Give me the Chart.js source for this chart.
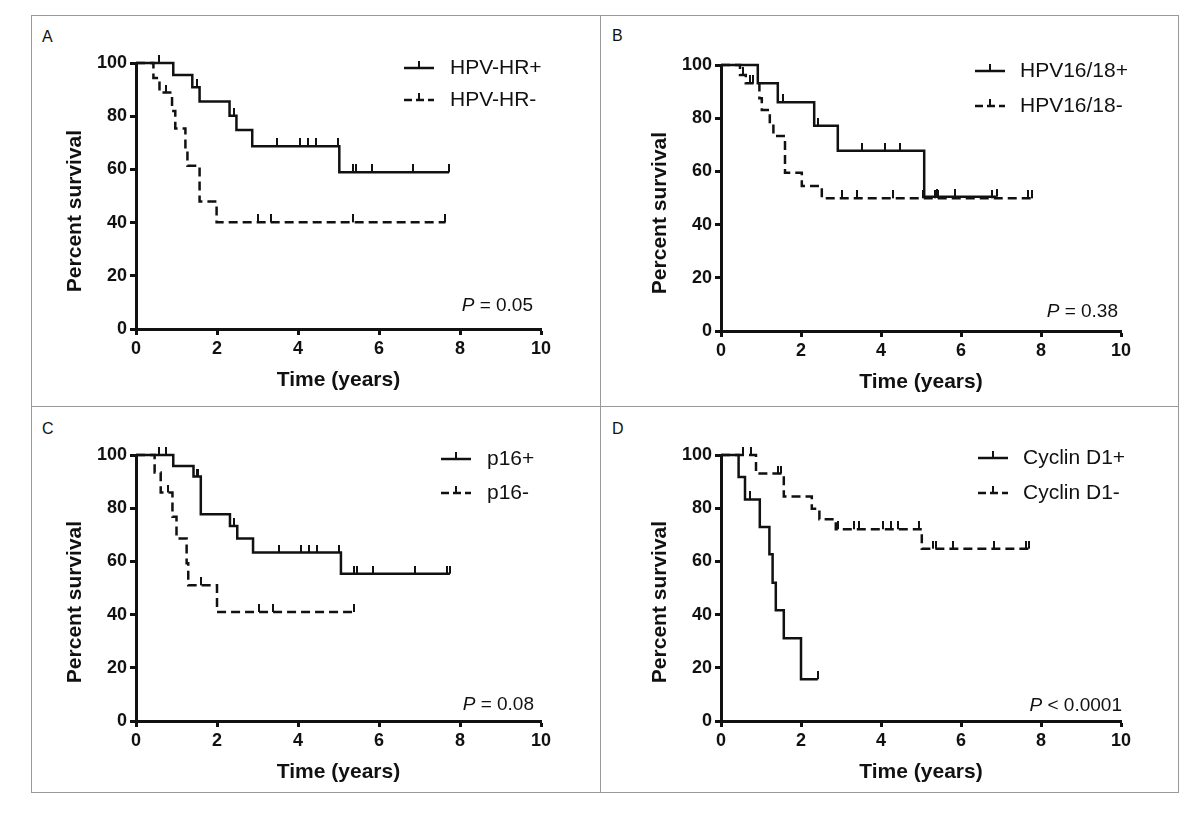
<!DOCTYPE html>
<html>
<head>
<meta charset="utf-8">
<title>Kaplan-Meier survival</title>
<script src="https://cdn.jsdelivr.net/npm/chart.js@4.4.0/dist/chart.umd.min.js"></script>
<style>
  html, body { margin: 0; padding: 0; background: #fff; }
  body { position: relative; width: 1200px; height: 816px; overflow: hidden; font-family: "Liberation Sans", Arial, sans-serif; color: #111; }
  .frame { position: absolute; left: 31px; top: 15px; width: 1146px; height: 776px; border: 1px solid #999; }
  .vline { position: absolute; left: 600px; top: 15px; width: 1px; height: 777px; background: #999; }
  .hline { position: absolute; left: 31px; top: 406px; width: 1147px; height: 1px; background: #999; }
  .letter { position: absolute; font-size: 16px; line-height: 18px; }
  canvas.chart { position: absolute; }
  .glyph { position: absolute; }
  .legtext { position: absolute; font-size: 21px; line-height: 24px; white-space: nowrap; }
  .pval { position: absolute; font-size: 19px; line-height: 22px; white-space: nowrap; text-align: right; }
  .ytitle { position: absolute; width: 200px; height: 24px; margin-left: -100px; margin-top: -12px;
            font-size: 21px; line-height: 24px; font-weight: bold; text-align: center; white-space: nowrap;
            transform: rotate(-90deg); }
</style>
</head>
<body>
<div class="frame"></div>
<div class="vline"></div>
<div class="hline"></div>

<div class="letter" style="left:42px;top:28px">A</div>
<div class="letter" style="left:612px;top:27px">B</div>
<div class="letter" style="left:42px;top:420px">C</div>
<div class="letter" style="left:612px;top:420px">D</div>

<canvas class="chart" id="chartA" width="538" height="350" style="left:58px;top:49px"></canvas>
<canvas class="chart" id="chartB" width="533" height="350" style="left:643px;top:51px"></canvas>
<canvas class="chart" id="chartC" width="538" height="350" style="left:58px;top:441px"></canvas>
<canvas class="chart" id="chartD" width="533" height="350" style="left:643px;top:441px"></canvas>

<div class="ytitle" style="left:74px;top:211px">Percent survival</div>
<div class="ytitle" style="left:659px;top:213px">Percent survival</div>
<div class="ytitle" style="left:74px;top:602px">Percent survival</div>
<div class="ytitle" style="left:659px;top:602px">Percent survival</div>

<canvas class="glyph js-solid" width="30" height="16" style="left:404px;top:59px"></canvas>
<div class="legtext" style="left:450px;top:55px">HPV-HR+</div>
<canvas class="glyph js-dashed" width="30" height="16" style="left:404px;top:91px"></canvas>
<div class="legtext" style="left:450px;top:87px">HPV-HR-</div>

<canvas class="glyph js-solid" width="30" height="16" style="left:975px;top:62px"></canvas>
<div class="legtext" style="left:1020px;top:58px">HPV16/18+</div>
<canvas class="glyph js-dashed" width="30" height="16" style="left:975px;top:97px"></canvas>
<div class="legtext" style="left:1020px;top:93px">HPV16/18-</div>

<canvas class="glyph js-solid" width="30" height="16" style="left:441px;top:450px"></canvas>
<div class="legtext" style="left:487px;top:446px">p16+</div>
<canvas class="glyph js-dashed" width="30" height="16" style="left:441px;top:484px"></canvas>
<div class="legtext" style="left:487px;top:480px">p16-</div>

<canvas class="glyph js-solid" width="30" height="16" style="left:978px;top:449px"></canvas>
<div class="legtext" style="left:1023px;top:445px">Cyclin D1+</div>
<canvas class="glyph js-dashed" width="30" height="16" style="left:978px;top:484px"></canvas>
<div class="legtext" style="left:1023px;top:480px">Cyclin D1-</div>

<div class="pval" style="right:667px;top:294px"><i>P</i> = 0.05</div>
<div class="pval" style="right:82px;top:300px"><i>P</i> = 0.38</div>
<div class="pval" style="right:666px;top:693px"><i>P</i> = 0.08</div>
<div class="pval" style="right:78px;top:694px"><i>P</i> &lt; 0.0001</div>

<script>
'use strict';

// ---- data (time in years, survival in %) ----
// A: HPV-HR
const hrPosTime = [0, 0.92, 1.39, 1.57, 2.31, 2.48, 2.87, 5.02, 7.73];
const hrPosSurv = [100, 95.5, 90.9, 85.5, 80.2, 74.8, 68.7, 58.9, 58.9];
const hrPosCensor = [0.56, 1.5, 2.41, 3.49, 4.04, 4.24, 4.44, 4.98, 5.35, 5.43, 5.82, 6.85, 7.73];
const hrNegTime = [0, 0.43, 0.58, 0.89, 0.97, 1.22, 1.27, 1.57, 1.99, 7.64];
const hrNegSurv = [100, 94.4, 88.9, 82.0, 75.4, 68.3, 61.4, 47.9, 40.1, 40.1];
const hrNegCensor = [0.74, 3.0, 3.33, 5.35, 7.64];

// B: HPV16/18
const hpv16PosTime = [0, 0.92, 1.42, 2.33, 2.92, 5.08, 6.89];
const hpv16PosSurv = [100, 93.1, 86.0, 77.2, 67.8, 50.5, 50.5];
const hpv16PosCensor = [1.54, 2.43, 3.52, 4.1, 4.48, 5.39, 5.85, 6.89];
const hpv16NegTime = [0, 0.475, 0.62, 0.96, 1.02, 1.22, 1.31, 1.6, 2.02, 2.52, 7.77];
const hpv16NegSurv = [100, 96.2, 93.1, 87.5, 83.1, 78.1, 73.3, 59.5, 54.5, 49.9, 49.9];
const hpv16NegCensor = [0.54, 0.73, 0.81, 3.02, 3.39, 4.31, 5.06, 5.35, 5.43, 5.85, 6.77, 7.68, 7.77];

// C: p16
const p16PosTime = [0, 0.92, 1.42, 1.6, 2.32, 2.5, 2.89, 5.06, 7.75];
const p16PosSurv = [100, 95.9, 91.9, 77.7, 73.3, 68.6, 63.3, 55.4, 55.4];
const p16PosCensor = [0.58, 0.75, 1.5, 1.54, 2.42, 3.52, 4.07, 4.27, 4.47, 5.0, 5.38, 5.45, 5.84, 6.88, 7.67, 7.75];
const p16NegTime = [0, 0.46, 0.61, 0.9, 1.0, 1.25, 1.29, 2.0, 5.38];
const p16NegSurv = [100, 93.4, 85.9, 76.8, 68.6, 59.3, 51.0, 41.0, 41.0];
const p16NegCensor = [0.79, 1.61, 3.03, 3.38, 5.38];

// D: Cyclin D1
const cycPosTime = [0, 0.44, 0.6, 0.97, 1.21, 1.29, 1.37, 1.57, 2.0, 2.42];
const cycPosSurv = [100, 91.7, 83.3, 72.9, 62.7, 52.0, 41.6, 31.1, 15.7, 15.7];
const cycPosCensor = [0.73, 2.42];
const cycNegTime = [0, 0.875, 1.57, 2.27, 2.46, 2.87, 5.02, 7.71];
const cycNegSurv = [100, 93.0, 84.4, 79.8, 75.8, 72.1, 64.8, 64.8];
const cycNegCensor = [0.54, 0.75, 1.42, 1.5, 2.92, 3.33, 3.46, 4.04, 4.25, 4.42, 4.96, 5.29, 5.37, 5.79, 6.83, 7.62, 7.71];

// axes
const xTicks = [0, 2, 4, 6, 8, 10];
const yTicks = [0, 20, 40, 60, 80, 100];
const xTitle = 'Time (years)';

const fontFamily = '"Liberation Sans", Arial, sans-serif';
const ink = '#111';

// value of the step curve at time t (used to put censor marks on the line)
const stepAt = function(times, surv, t) {
  let value = surv[0];
  for (let i = 0; i < times.length; i++) {
    if (times[i] <= t) value = surv[i];
  }
  return value;
};

const toPoints = function(times, surv) {
  return times.map((t, i) => ({ x: t, y: surv[i] }));
};

const censorPoints = function(censor, times, surv) {
  return censor.map(t => ({ x: t, y: stepAt(times, surv, t) }));
};

// small upward tick used as the censor mark
const makeTick = function() {
  const c = document.createElement('canvas');
  c.width = 2;
  c.height = 16;
  const ctx = c.getContext('2d');
  ctx.fillStyle = ink;
  ctx.fillRect(0, 0, 2, 8);
  return c;
};

const drawGlyphs = function() {
  document.querySelectorAll('.glyph').forEach(function(c) {
    const ctx = c.getContext('2d');
    ctx.strokeStyle = ink;
    ctx.lineWidth = 2.5;
    if (c.classList.contains('js-dashed')) ctx.setLineDash([8, 4]);
    ctx.beginPath();
    ctx.moveTo(0, 9);
    ctx.lineTo(30, 9);
    ctx.stroke();
    ctx.setLineDash([]);
    ctx.fillStyle = ink;
    ctx.fillRect(14, 2, 2, 7);
  });
};

const axisCommon = function(ticks, title) {
  return {
    type: 'linear',
    min: ticks[0],
    max: ticks[ticks.length - 1],
    afterBuildTicks: function(scale) {
      scale.ticks = ticks.map(v => ({ value: v }));
    },
    ticks: {
      color: ink,
      padding: 3,
      font: { family: fontFamily, size: 18, weight: 'bold' }
    },
    grid: {
      drawOnChartArea: false,
      drawTicks: true,
      tickLength: 6,
      tickWidth: 3,
      tickColor: ink
    },
    border: { display: true, color: ink, width: 3 },
    title: {
      display: !!title,
      text: title || '',
      color: ink,
      font: { family: fontFamily, size: 21, weight: 'bold' },
      padding: { top: 4, bottom: 6 }
    }
  };
};

const makePanel = function(id, pos, neg) {
  const tick = makeTick();
  const xScale = axisCommon(xTicks, xTitle);
  xScale.afterFit = function(scale) { scale.height = 70; };
  const yScale = axisCommon(yTicks, null);
  yScale.afterFit = function(scale) { scale.width = 78; };

  new Chart(document.getElementById(id), {
    type: 'line',
    data: {
      datasets: [
        {
          data: censorPoints(pos.censor, pos.time, pos.surv),
          showLine: false,
          pointStyle: tick,
          pointRadius: 4,
          clip: false
        },
        {
          data: censorPoints(neg.censor, neg.time, neg.surv),
          showLine: false,
          pointStyle: tick,
          pointRadius: 4,
          clip: false
        },
        {
          data: toPoints(pos.time, pos.surv),
          stepped: 'before',
          borderColor: ink,
          borderWidth: 2.5,
          pointRadius: 0,
          fill: false,
          clip: false
        },
        {
          data: toPoints(neg.time, neg.surv),
          stepped: 'before',
          borderColor: ink,
          borderWidth: 2.5,
          borderDash: [9, 5],
          pointRadius: 0,
          fill: false,
          clip: false
        }
      ]
    },
    options: {
      responsive: false,
      animation: false,
      layout: { padding: { top: 14, right: 55, left: 0, bottom: 0 } },
      plugins: { legend: { display: false }, tooltip: { enabled: false } },
      scales: { x: xScale, y: yScale }
    }
  });
};

const init = function() {
  drawGlyphs();
  makePanel('chartA',
    { time: hrPosTime, surv: hrPosSurv, censor: hrPosCensor },
    { time: hrNegTime, surv: hrNegSurv, censor: hrNegCensor });
  makePanel('chartB',
    { time: hpv16PosTime, surv: hpv16PosSurv, censor: hpv16PosCensor },
    { time: hpv16NegTime, surv: hpv16NegSurv, censor: hpv16NegCensor });
  makePanel('chartC',
    { time: p16PosTime, surv: p16PosSurv, censor: p16PosCensor },
    { time: p16NegTime, surv: p16NegSurv, censor: p16NegCensor });
  makePanel('chartD',
    { time: cycPosTime, surv: cycPosSurv, censor: cycPosCensor },
    { time: cycNegTime, surv: cycNegSurv, censor: cycNegCensor });
};

document.addEventListener('DOMContentLoaded', function() {
  init();
});
</script>
</body>
</html>
